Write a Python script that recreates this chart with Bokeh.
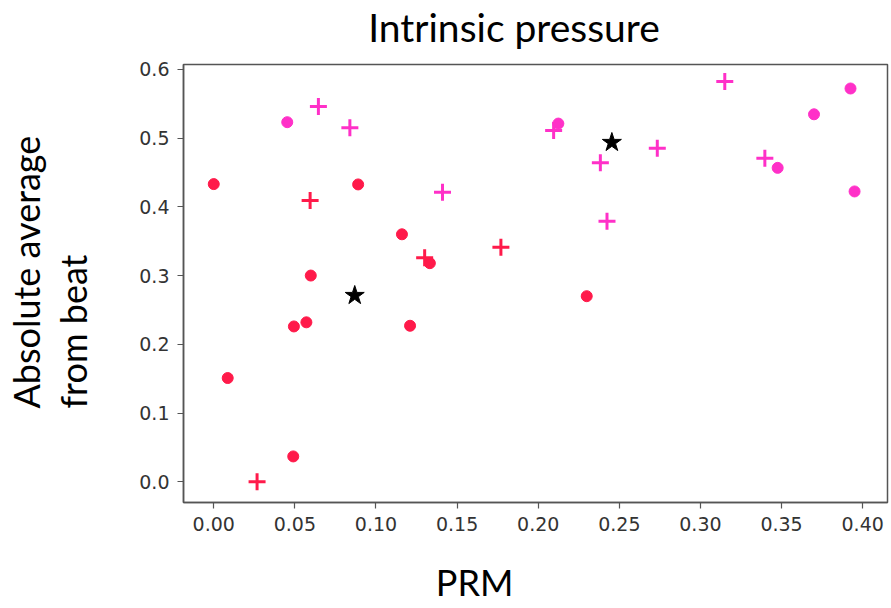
from bokeh.plotting import figure
from bokeh.models import FixedTicker, Range1d, LinearAxis, Title
from bokeh.embed import file_html
from bokeh.resources import INLINE

# ---- data ----
red_circle_x = [0.000, 0.0086, 0.049, 0.0494, 0.0571, 0.0598, 0.089, 0.116, 0.121, 0.1332, 0.2299]
red_circle_y = [0.433, 0.151, 0.037, 0.226, 0.232, 0.300, 0.4325, 0.360, 0.227, 0.318, 0.270]
red_plus_x = [0.0267, 0.0594, 0.130, 0.177]
red_plus_y = [0.000, 0.409, 0.326, 0.341]
mag_circle_x = [0.0453, 0.2124, 0.370, 0.3925, 0.3476, 0.395]
mag_circle_y = [0.523, 0.521, 0.5345, 0.572, 0.4566, 0.4223]
mag_plus_x = [0.0645, 0.0839, 0.141, 0.2095, 0.2383, 0.2424, 0.2734, 0.315, 0.3397]
mag_plus_y = [0.546, 0.515, 0.421, 0.511, 0.464, 0.379, 0.485, 0.582, 0.4707]
star_x = [0.0869, 0.2454]
star_y = [0.271, 0.4935]

x_ticks = [0.00, 0.05, 0.10, 0.15, 0.20, 0.25, 0.30, 0.35, 0.40]
x_tick_labels = ["0.00", "0.05", "0.10", "0.15", "0.20", "0.25", "0.30", "0.35", "0.40"]
y_ticks = [0.0, 0.1, 0.2, 0.3, 0.4, 0.5, 0.6]
y_tick_labels = ["0.0", "0.1", "0.2", "0.3", "0.4", "0.5", "0.6"]

title_text = "Intrinsic pressure"
x_label = "PRM"
y_label_1 = "Absolute average"
y_label_2 = "from beat"

RED = "#ff1a4a"
MAG = "#ff30c8"
LABEL_FONT = "Lato"

p = figure(width=889, height=608, output_backend="svg", toolbar_location=None,
           x_range=Range1d(-0.01865, 0.4153), y_range=Range1d(-0.030, 0.6069),
           min_border_left=182, min_border_right=2, min_border_top=63, min_border_bottom=106)
p.title.text = ""
p.grid.visible = False
p.outline_line_color = "#555555"
p.outline_line_width = 1.5

for ax, ticks, labels in ((p.xaxis[0], x_ticks, x_tick_labels), (p.yaxis[0], y_ticks, y_tick_labels)):
    ax.ticker = FixedTicker(ticks=ticks)
    ax.major_label_overrides = {t: l for t, l in zip(ticks, labels)}
    ax.axis_line_color = "#555555"
    ax.axis_line_width = 1.5
    ax.major_tick_line_color = "#555555"
    ax.major_tick_line_width = 1.2
    ax.major_tick_out = 6
    ax.major_tick_in = 0
    ax.minor_tick_out = 0
    ax.minor_tick_in = 0
    ax.major_label_text_font = "DejaVu Sans"
    ax.major_label_text_font_size = "19px"
    ax.major_label_text_color = "#333333"
    ax.major_label_standoff = 8

p.scatter(red_circle_x, red_circle_y, marker="circle", size=11, fill_color=RED, line_color=RED)
p.scatter(mag_circle_x, mag_circle_y, marker="circle", size=11, fill_color=MAG, line_color=MAG)
p.scatter(red_plus_x, red_plus_y, marker="cross", size=17, line_color=RED, line_width=3)
p.scatter(mag_plus_x, mag_plus_y, marker="cross", size=17, line_color=MAG, line_width=3)
p.scatter(star_x, star_y, marker="star", size=20, fill_color="black", line_color="black")


def bare_axis(ticks, labels, standoff, size, tick_out=0):
    """An axis without line or visible tick marks, used only to place text or space."""
    ax = LinearAxis(ticker=FixedTicker(ticks=ticks),
                    major_label_overrides={t: l for t, l in zip(ticks, labels)})
    ax.axis_line_color = None
    # a white tick on the white border keeps the reserved space but shows nothing
    ax.major_tick_line_color = "white" if tick_out else None
    ax.minor_tick_line_color = None
    ax.major_tick_out = tick_out
    ax.major_tick_in = 0
    ax.minor_tick_out = 0
    ax.minor_tick_in = 0
    ax.major_label_standoff = standoff
    ax.major_label_text_font = LABEL_FONT
    ax.major_label_text_font_size = size
    ax.major_label_text_color = "black"
    return ax


# centre of the horizontal texts, in data units
title_at = 0.1851
xlabel_at = 0.1608

p.add_layout(bare_axis([title_at], [title_text], 15, "39px"), "above")
p.add_layout(bare_axis([xlabel_at], [x_label], 26, "36px"), "below")

# y label: spacer (one invisible tick, empty label), then the two lines as titles
p.add_layout(bare_axis([y_ticks[0]], [""], 0, "36px", tick_out=42), "left")
lab = dict(text_font=LABEL_FONT, text_font_size="36px", text_font_style="normal",
           text_color="black", align="left", offset=94)
p.add_layout(Title(text=y_label_2, standoff=0, **lab), "left")
p.add_layout(Title(text=y_label_1, standoff=2, **lab), "left")

open("out.html", "w").write(file_html(p, INLINE))
